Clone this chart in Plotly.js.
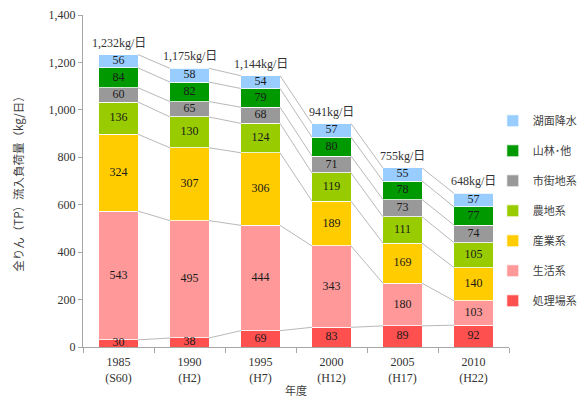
<!DOCTYPE html>
<html>
<head>
<meta charset="utf-8">
<script src="https://cdn.plot.ly/plotly-3.0.1.min.js"></script>
<style>html,body{margin:0;padding:0;background:#fff}#chart{width:579px;height:398px}</style>
</head>
<body>
<div id="chart"></div>
<script>
// ---- data ----
const years = ["1985<br>(S60)", "1990<br>(H2)", "1995<br>(H7)", "2000<br>(H12)", "2005<br>(H17)", "2010<br>(H22)"];
const seriesNames = ["処理場系", "生活系", "産業系", "農地系", "市街地系", "山林･他", "湖面降水"];
const shoriJo   = [30, 38, 69, 83, 89, 92];
const seikatsu  = [543, 495, 444, 343, 180, 103];
const sangyo    = [324, 307, 306, 189, 169, 140];
const nochi     = [136, 130, 124, 119, 111, 105];
const shigaichi = [60, 65, 68, 71, 73, 74];
const sanrin    = [84, 82, 79, 80, 78, 77];
const komen     = [56, 58, 54, 57, 55, 57];
const totals    = [1232, 1175, 1144, 941, 755, 648];
const colors = ["#FF5050", "#FF9999", "#FFCC00", "#99CC00", "#999999", "#009900", "#99CCFF"];

const series = [shoriJo, seikatsu, sangyo, nochi, shigaichi, sanrin, komen];
const xs = years.map((_, i) => i);
const barW = 0.55;
const serif = "Liberation Serif, Times New Roman, Noto Sans CJK JP, serif";
const jp = "Noto Sans CJK JP, sans-serif";

const traces = [];
const cum = [];
series.forEach((s, k) => {
  cum.push(s.map((v, i) => (k ? cum[k - 1][i] : 0) + v));
});

// connector lines
series.forEach((s, k) => {
  const lx = [], ly = [];
  for (let i = 0; i < xs.length - 1; i++) {
    lx.push(xs[i] + barW / 2, xs[i + 1] - barW / 2, null);
    ly.push(cum[k][i], cum[k][i + 1], null);
  }
  traces.push({type: "scatter", mode: "lines", x: lx, y: ly, showlegend: false, hoverinfo: "skip",
    line: {color: "#a6a6a6", width: 0.8}, cliponaxis: false});
});

// bars
series.forEach((s, k) => {
  traces.push({type: "bar", name: seriesNames[k], x: xs, y: s, width: barW,
    marker: {color: colors[k], line: {color: "#ffffff", width: 0.8}},
    legendgroup: "g" + k, legendrank: 10 * (series.length - k), hoverinfo: "skip"});
});

// segment labels
series.forEach((s, k) => {
  traces.push({type: "scatter", mode: "text", x: xs, y: s.map((v, i) => cum[k][i] - v / 2),
    text: s.map(String), textposition: "middle center", showlegend: false, hoverinfo: "skip",
    textfont: {family: serif, size: 12, color: "#1a1a1a"}, cliponaxis: false});
});

// total labels
const annotations = xs.map((x, i) => ({
  x: x, y: totals[i], xref: "x", yref: "y", text: totals[i].toLocaleString("en-US") + "kg/日",
  showarrow: false, yshift: 12, font: {family: serif, size: 12, color: "#333333"}
}));

const layout = {
  width: 579, height: 398,
  margin: {l: 83, r: 70, t: 15, b: 51, autoexpand: false},
  paper_bgcolor: "#ffffff", plot_bgcolor: "#ffffff",
  barmode: "stack",
  showlegend: true,
  annotations: annotations,
  legend: {x: 0.962, xanchor: "left", y: 0.725, yanchor: "top", traceorder: "grouped",
    tracegroupgap: 11, font: {family: jp, size: 11, color: "#404040"}, itemwidth: 30, bgcolor: "rgba(0,0,0,0)"},
  font: {family: serif, size: 12, color: "#404040"},
  xaxis: {range: [-0.5, 5.5], tickvals: xs, ticktext: years, ticks: "", showgrid: false, zeroline: false,
    showline: true, linecolor: "#a6a6a6", linewidth: 1, ticklabelstandoff: 4,
    minor: {tickvals: [-0.5, 0.5, 1.5, 2.5, 3.5, 4.5, 5.5], ticks: "outside", ticklen: 5, tickcolor: "#a6a6a6", showgrid: false},
    tickfont: {family: serif, size: 12, color: "#333333"},
    title: {text: "年度", font: {family: jp, size: 11, color: "#404040"}, standoff: 8}},
  yaxis: {range: [0, 1400], dtick: 200, tickformat: ",d", ticks: "outside", ticklen: 4, tickcolor: "#a6a6a6",
    showgrid: false, zeroline: false, showline: true, linecolor: "#a6a6a6", linewidth: 1,
    tickfont: {family: serif, size: 12, color: "#333333"},
    title: {text: "全りん（TP）流入負荷量（kg/日）", font: {family: jp, size: 11.5, color: "#404040"}, standoff: 22}}
};

Plotly.newPlot("chart", traces, layout, {displayModeBar: false, staticPlot: true});
</script>
</body>
</html>
